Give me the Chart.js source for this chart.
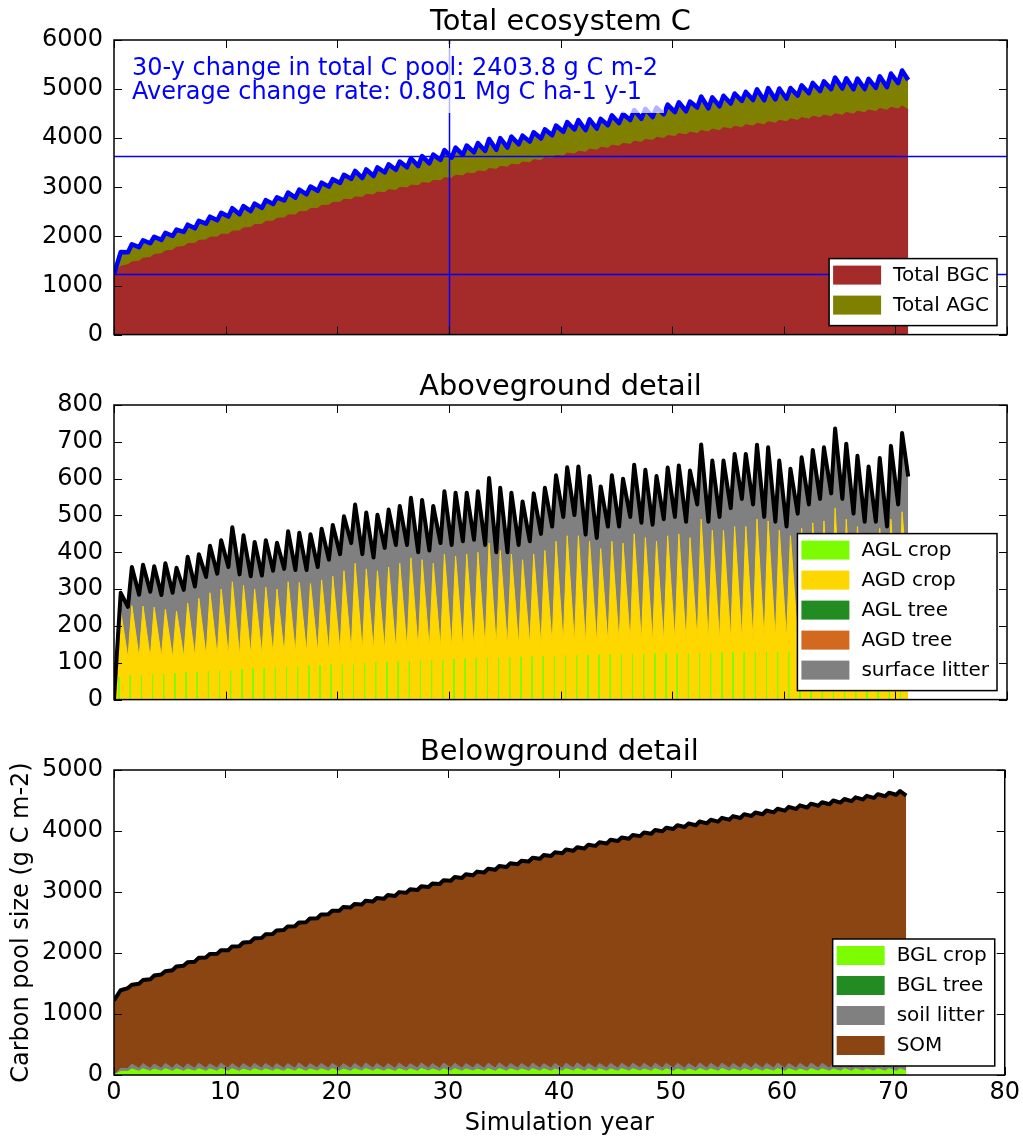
<!DOCTYPE html>
<html>
<head>
<meta charset="utf-8">
<title>Total ecosystem C</title>
<script src="https://cdn.jsdelivr.net/npm/chart.js@4.4.1/dist/chart.umd.min.js"></script>
<style>
    body { margin: 0; background: #fff; }
    #fig { position: relative; width: 1023px; height: 1139px; }
    #fig canvas { position: absolute; left: 0; display: block; }
</style>
</head>
<body>
<div id="fig">
    <canvas id="totalChart" width="1023" height="360" style="top:0"></canvas>
    <canvas id="aboveChart" width="1023" height="365" style="top:360px"></canvas>
    <canvas id="belowChart" width="1023" height="414" style="top:725px"></canvas>
</div>
<script>
// ---- data ----
// simulation years (one growing cycle per year), values in g C m-2
const years = Array.from({ length: 71 }, (_, i) => i);
const troughPhase = 0.25;   // time of the yearly minimum within a year
const peakPhase = 0.6;      // time of the yearly maximum (harvest)
const spikePhase = [0.43, 0.47];
const endYear = 71.15;

// tick labels
const yearTicks = [0, 10, 20, 30, 40, 50, 60, 70, 80];
const totalTicks = [0, 1000, 2000, 3000, 4000, 5000, 6000];
const aboveTicks = [0, 100, 200, 300, 400, 500, 600, 700, 800];
const belowTicks = [0, 1000, 2000, 3000, 4000, 5000];

// aboveground total (black line), yearly minimum and maximum
const aboveLow = [
    0, 252, 285, 293, 284, 290, 298, 307, 333, 342,
    360, 340, 335, 337, 350, 355, 352, 352, 360, 380,
    395, 425, 395, 386, 412, 420, 420, 400, 405, 425,
    420, 430, 434, 420, 400, 400, 420, 430, 450, 470,
    496, 501, 448, 439, 470, 470, 496, 480, 475, 490,
    496, 483, 530, 483, 496, 520, 545, 530, 496, 483,
    470, 505, 530, 545, 560, 545, 505, 483, 483, 470,
    530];
const abovePeak = [
    290, 360, 366, 362, 370, 358, 388, 395, 418, 433,
    468, 446, 428, 433, 426, 457, 453, 449, 464, 474,
    498, 530, 508, 502, 516, 526, 548, 542, 526, 566,
    562, 562, 566, 602, 575, 562, 538, 560, 575, 609,
    631, 633, 607, 579, 609, 600, 638, 624, 607, 630,
    636, 622, 693, 649, 649, 667, 667, 692, 685, 649,
    627, 658, 678, 685, 736, 695, 662, 633, 656, 689,
    724];
const aboveEnd = 606;

// AGD crop (dead crop on the surface)
const agdLow = [
    0, 112, 113, 112, 114, 113, 115, 116, 117, 118,
    120, 119, 121, 122, 123, 123, 125, 126, 127, 128,
    130, 131, 131, 133, 134, 135, 136, 137, 138, 139,
    140, 141, 142, 143, 143, 145, 146, 147, 148, 149,
    150, 151, 151, 152, 153, 154, 155, 155, 156, 157,
    158, 158, 159, 160, 160, 161, 162, 162, 163, 163,
    164, 164, 165, 165, 166, 166, 167, 167, 168, 168,
    168];
const agdPeak = [
    240, 255, 254, 251, 245, 240, 262, 275, 290, 300,
    320, 310, 300, 305, 300, 320, 318, 315, 325, 335,
    350, 370, 355, 350, 360, 370, 385, 380, 370, 395,
    390, 395, 400, 425, 405, 395, 380, 395, 405, 430,
    445, 445, 430, 410, 430, 425, 450, 440, 430, 445,
    450, 440, 490, 460, 460, 470, 470, 490, 485, 460,
    445, 465, 480, 485, 520, 490, 470, 450, 465, 490,
    510];
const agdEnd = 300;

// AGL crop (living crop), short spike before harvest
const aglSpike = [
    60, 65, 66, 68, 70, 71, 73, 75, 77, 79,
    80, 82, 84, 85, 87, 89, 90, 92, 93, 95,
    96, 98, 99, 101, 102, 103, 105, 106, 107, 108,
    110, 111, 112, 113, 114, 115, 116, 117, 118, 119,
    120, 120, 121, 122, 122, 123, 124, 124, 125, 125,
    126, 126, 127, 127, 128, 128, 128, 129, 129, 129,
    130, 130, 130, 131, 131, 131, 132, 132, 132, 133,
    133];

// no trees in this run
const aglTree = [0, 0];
const agdTree = [0, 0];
const bglTree = [0, 0];

// belowground total (black line)
const belowLow = [
    1225, 1425, 1495, 1568, 1646, 1718, 1792, 1858, 1926, 1986,
    2044, 2112, 2181, 2244, 2310, 2376, 2438, 2506, 2569, 2634,
    2694, 2746, 2794, 2844, 2890, 2936, 2986, 3032, 3082, 3132,
    3184, 3230, 3276, 3320, 3364, 3410, 3456, 3500, 3544, 3590,
    3634, 3676, 3714, 3756, 3794, 3836, 3874, 3916, 3954, 3996,
    4034, 4066, 4094, 4126, 4154, 4186, 4214, 4246, 4274, 4306,
    4334, 4362, 4386, 4414, 4438, 4466, 4490, 4518, 4542, 4570,
    4594];
const belowPeak = [
    1390, 1480, 1556, 1630, 1702, 1780, 1850, 1921, 1984, 2046,
    2107, 2172, 2240, 2306, 2369, 2436, 2500, 2566, 2630, 2692,
    2756, 2804, 2856, 2902, 2951, 2998, 3044, 3094, 3140, 3194,
    3246, 3290, 3334, 3382, 3426, 3470, 3514, 3562, 3606, 3650,
    3696, 3734, 3776, 3814, 3856, 3894, 3936, 3974, 4016, 4054,
    4096, 4124, 4156, 4184, 4216, 4244, 4276, 4304, 4336, 4364,
    4396, 4420, 4448, 4472, 4500, 4524, 4552, 4576, 4604, 4628,
    4656];
const belowEnd = 4580;

// BGL crop (roots)
const bglLow = [
    0, 60, 62, 61, 63, 60, 62, 64, 61, 63,
    62, 60, 63, 64, 62, 61, 63, 62, 64, 63,
    61, 62, 64, 63, 62, 60, 63, 62, 64, 61,
    63, 62, 64, 62, 61, 63, 64, 62, 63, 61,
    62, 64, 63, 62, 61, 63, 62, 64, 63, 62,
    60, 63, 62, 64, 61, 63, 62, 64, 63, 62,
    61, 63, 62, 64, 63, 62, 61, 63, 64, 62,
    63];
const bglPeak = [
    60, 98, 102, 97, 104, 100, 96, 103, 99, 105,
    101, 97, 104, 100, 98, 103, 106, 99, 101, 104,
    97, 102, 105, 100, 98, 103, 101, 106, 99, 102,
    104, 100, 97, 103, 105, 101, 99, 104, 102, 98,
    103, 106, 100, 102, 99, 104, 101, 97, 105, 103,
    100, 98, 104, 102, 106, 99, 101, 103, 100, 105,
    102, 98, 104, 101, 99, 106, 103, 100, 102, 104,
    101];
const bglEnd = 62;

// soil litter
const litterLow = [
    0, 46, 48, 47, 49, 50, 48, 47, 51, 49,
    50, 48, 52, 49, 50, 51, 48, 50, 52, 49,
    51, 50, 48, 52, 50, 49, 51, 53, 50, 48,
    52, 50, 51, 49, 53, 50, 52, 51, 49, 52,
    50, 53, 51, 50, 52, 49, 51, 53, 50, 52,
    51, 49, 52, 50, 53, 51, 50, 52, 49, 53,
    51, 50, 52, 51, 49, 53, 50, 52, 51, 50,
    52];
const litterPeak = [
    50, 82, 86, 84, 88, 85, 87, 90, 86, 89,
    88, 91, 87, 90, 89, 86, 92, 88, 90, 87,
    91, 89, 93, 88, 90, 92, 87, 91, 89, 93,
    90, 88, 92, 90, 94, 89, 91, 93, 88, 92,
    90, 94, 91, 89, 93, 90, 92, 95, 89, 91,
    93, 90, 94, 91, 88, 92, 95, 90, 93, 91,
    89, 94, 92, 90, 95, 91, 93, 90, 94, 92,
    91];
const litterEnd = 50;

// 30-year change summary
const changeYears = 30;
const changeTotal = 2403.8;
const changeRate = 0.801;
const cStart = 1225;

// ---- series builders ----
function cycleSeries(low, peak, endValue) {
    const pts = [];
    years.forEach(y => {
        pts.push({ x: y === 0 ? 0 : y + troughPhase, y: low[y] });
        pts.push({ x: y + peakPhase, y: peak[y] });
    });
    pts.push({ x: endYear, y: endValue });
    return pts;
}

function spikeSeries(h) {
    const pts = [];
    years.forEach(y => {
        const x0 = y + spikePhase[0], x1 = y + spikePhase[1];
        pts.push({ x: x0, y: 0 }, { x: x0, y: h[y] }, { x: x1, y: h[y] }, { x: x1, y: 0 });
    });
    return pts;
}

function flatSeries(v) {
    return [{ x: 0, y: v[0] }, { x: endYear, y: v[1] }];
}

function sumSeries(a, b) {
    return a.map((p, i) => ({ x: p.x, y: p.y + b[i].y }));
}

const aboveTotal = cycleSeries(aboveLow, abovePeak, aboveEnd);
const agdCrop = cycleSeries(agdLow, agdPeak, agdEnd);
const belowTotal = cycleSeries(belowLow, belowPeak, belowEnd);
const bglCrop = cycleSeries(bglLow, bglPeak, bglEnd);
const soilLitter = cycleSeries(litterLow, litterPeak, litterEnd);
const ecoTotal = sumSeries(belowTotal, aboveTotal);

// ---- figure decoration (titles, legend inside axes, inward ticks) ----
const FONT = "'DejaVu Sans', sans-serif";
Chart.defaults.font.family = FONT;
Chart.defaults.color = '#000';

const decor = {
    totalChart: {
        title: 'Total ecosystem C', yTicks: totalTicks,
        refLines: { h: [cStart, cStart + changeTotal], v: changeYears },
        note: [
            changeYears + '-y change in total C pool: ' + changeTotal + ' g C m-2',
            'Average change rate: ' + changeRate + ' Mg C ha-1 y-1'
        ]
    },
    aboveChart: { title: 'Aboveground detail', yTicks: aboveTicks },
    belowChart: {
        title: 'Belowground detail', yTicks: belowTicks,
        xTitle: 'Simulation year', yTitle: 'Carbon pool size (g C m-2)'
    }
};

const mplDecor = {
    id: 'mplDecor',
    afterDatasetsDraw(chart) {
        const d = decor[chart.canvas.id];
        const { ctx, chartArea: a, scales: { x, y } } = chart;
        ctx.save();

        if (d.refLines) {
            ctx.strokeStyle = '#0000ff';
            ctx.lineWidth = 1.5;
            ctx.beginPath();
            d.refLines.h.forEach(v => {
                const py = Math.round(y.getPixelForValue(v)) + 0.5;
                ctx.moveTo(a.left, py);
                ctx.lineTo(a.right, py);
            });
            const px = Math.round(x.getPixelForValue(d.refLines.v)) + 0.5;
            ctx.moveTo(px, a.top);
            ctx.lineTo(px, a.bottom);
            ctx.stroke();
        }

        if (d.note) {
            ctx.fillStyle = 'rgba(255,255,255,0.7)';
            ctx.fillRect(a.left + 14, a.top + 4, 536, 69);
            ctx.fillStyle = '#0000ff';
            ctx.font = '24px ' + FONT;
            ctx.textAlign = 'left';
            ctx.textBaseline = 'alphabetic';
            d.note.forEach((t, i) => ctx.fillText(t, a.left + 18, a.top + 35 + i * 24));
        }

        // legend in the lower right corner
        const items = chart.data.datasets.filter(ds => ds.inLegend);
        if (items.length) {
            ctx.font = '20px ' + FONT;
            const textW = Math.max(...items.map(ds => ctx.measureText(ds.label).width));
            const w = 4 + 48 + 12 + textW + 8;
            const h = 7 + items.length * 30;
            const bx = a.right - 10 - w;
            const by = a.bottom - 9 - h;
            ctx.fillStyle = '#fff';
            ctx.fillRect(bx, by, w, h);
            ctx.strokeStyle = '#000';
            ctx.lineWidth = 1.5;
            ctx.strokeRect(bx, by, w, h);
            items.forEach((ds, i) => {
                const py = by + 7 + i * 30;
                ctx.fillStyle = ds.backgroundColor;
                ctx.fillRect(bx + 4, py, 48, 19);
                ctx.fillStyle = '#000';
                ctx.textAlign = 'left';
                ctx.textBaseline = 'middle';
                ctx.fillText(ds.label, bx + 64, py + 10);
            });
        }

        // axes frame and inward ticks
        ctx.strokeStyle = '#000';
        ctx.lineWidth = 1.5;
        ctx.strokeRect(a.left, a.top, a.right - a.left, a.bottom - a.top);
        ctx.lineWidth = 1;
        ctx.beginPath();
        yearTicks.forEach(v => {
            const px = Math.round(x.getPixelForValue(v)) + 0.5;
            ctx.moveTo(px, a.bottom); ctx.lineTo(px, a.bottom - 8);
            ctx.moveTo(px, a.top); ctx.lineTo(px, a.top + 8);
        });
        d.yTicks.forEach(v => {
            const py = Math.round(y.getPixelForValue(v)) + 0.5;
            ctx.moveTo(a.left, py); ctx.lineTo(a.left + 8, py);
            ctx.moveTo(a.right, py); ctx.lineTo(a.right - 8, py);
        });
        ctx.stroke();
        ctx.restore();
    },
    afterDraw(chart) {
        const d = decor[chart.canvas.id];
        const { ctx, chartArea: a } = chart;
        ctx.save();
        ctx.fillStyle = '#000';
        ctx.textAlign = 'center';
        ctx.textBaseline = 'alphabetic';
        ctx.font = '28.8px ' + FONT;
        ctx.fillText(d.title, (a.left + a.right) / 2, a.top - 10);
        ctx.font = '24px ' + FONT;
        if (d.xTitle) {
            ctx.textBaseline = 'middle';
            ctx.fillText(d.xTitle, (a.left + a.right) / 2, a.bottom + 49);
        }
        if (d.yTitle) {
            ctx.translate(22, (a.top + a.bottom) / 2);
            ctx.rotate(-Math.PI / 2);
            ctx.textBaseline = 'middle';
            ctx.fillText(d.yTitle, 0, 0);
        }
        ctx.restore();
    }
};
Chart.register(mplDecor);

function panelOptions(yMax, yTicks, padding, showX) {
    return {
        responsive: false,
        animation: false,
        events: [],
        layout: { padding: padding },
        elements: { point: { radius: 0 }, line: { tension: 0 } },
        plugins: { legend: { display: false }, tooltip: { enabled: false } },
        scales: {
            x: {
                type: 'linear', min: 0, max: 80, display: showX,
                afterBuildTicks: s => { s.ticks = yearTicks.map(v => ({ value: v })); },
                ticks: { font: { size: 24 }, padding: 3, maxRotation: 0, autoSkip: false, callback: v => String(v) },
                grid: { display: false, drawTicks: false },
                border: { display: false },
                afterFit: s => { s.height = showX ? 64 : 0; }
            },
            y: {
                min: 0, max: yMax,
                afterBuildTicks: s => { s.ticks = yTicks.map(v => ({ value: v })); },
                ticks: { font: { size: 24 }, padding: 11, autoSkip: false, callback: v => String(v) },
                grid: { display: false, drawTicks: false },
                border: { display: false },
                afterFit: s => { s.width = 114; }
            }
        }
    };
}

function lineSet(data, color, width) {
    return { data: data, borderColor: color, borderWidth: width, fill: false,
             borderJoinStyle: 'round', pointRadius: 0 };
}

function areaSet(label, data, color) {
    return { label: label, inLegend: true, data: data, fill: 'origin',
             backgroundColor: color, borderColor: color, borderWidth: 1, pointRadius: 0 };
}

function emptySet(label, data, color) {
    return { label: label, inLegend: true, data: data, fill: 'origin',
             backgroundColor: color, borderColor: 'rgba(0,0,0,0)', borderWidth: 1, pointRadius: 0 };
}

// Total ecosystem C
new Chart(document.getElementById('totalChart'), {
    type: 'line',
    data: {
        datasets: [
            lineSet(ecoTotal, '#0000ff', 4.5),
            areaSet('Total BGC', belowTotal, '#a52a2a'),
            areaSet('Total AGC', ecoTotal, '#808000')
        ]
    },
    options: panelOptions(6000, totalTicks, { left: 0, right: 16, top: 40, bottom: 17 }, false)
});

// Aboveground detail
new Chart(document.getElementById('aboveChart'), {
    type: 'line',
    data: {
        datasets: [
            lineSet(aboveTotal, '#000', 4),
            areaSet('AGL crop', spikeSeries(aglSpike), '#7cfc00'),
            areaSet('AGD crop', agdCrop, '#ffd700'),
            emptySet('AGL tree', flatSeries(aglTree), '#228b22'),
            emptySet('AGD tree', flatSeries(agdTree), '#d2691e'),
            areaSet('surface litter', aboveTotal, '#808080')
        ]
    },
    options: panelOptions(800, aboveTicks, { left: 0, right: 16, top: 45, bottom: 18 }, false)
});

// Belowground detail
new Chart(document.getElementById('belowChart'), {
    type: 'line',
    data: {
        datasets: [
            lineSet(belowTotal, '#000', 4),
            areaSet('BGL crop', bglCrop, '#7cfc00'),
            emptySet('BGL tree', flatSeries(bglTree), '#228b22'),
            areaSet('soil litter', sumSeries(bglCrop, soilLitter), '#808080'),
            areaSet('SOM', belowTotal, '#8b4513')
        ]
    },
    options: panelOptions(5000, belowTicks, { left: 0, right: 16, top: 45, bottom: 0 }, true)
});
</script>
</body>
</html>
